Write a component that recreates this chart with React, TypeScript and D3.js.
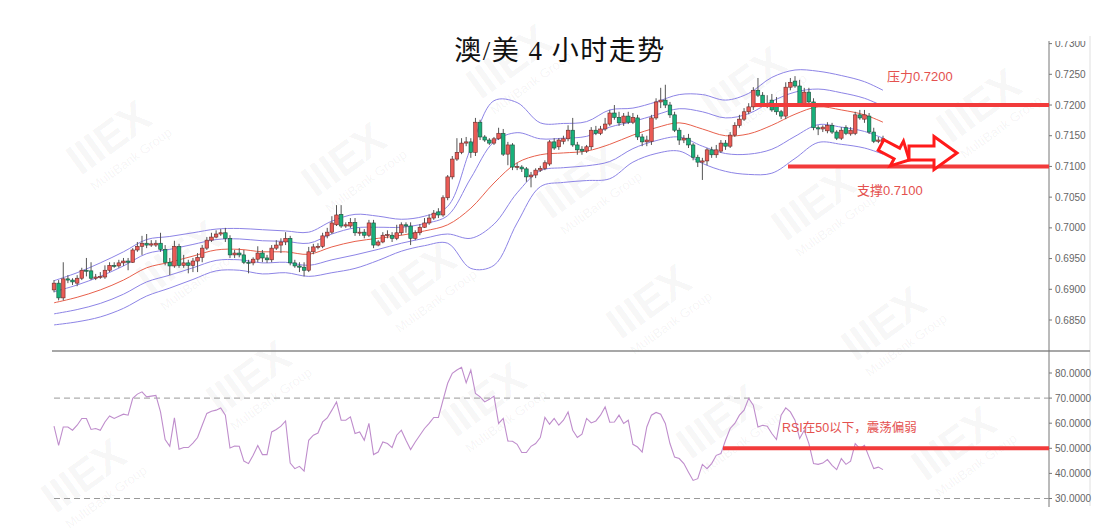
import React from 'react';
import * as d3 from 'd3';

// [open, high, low, close], 4h AUD/USD
const candles: [number, number, number, number][] = [
  [0.6899, 0.6915, 0.6895, 0.6910], [0.6910, 0.6915, 0.6882, 0.6886], [0.6886, 0.6944, 0.6882, 0.6917],
  [0.6917, 0.6923, 0.6910, 0.6915], [0.6915, 0.6918, 0.6907, 0.6912], [0.6910, 0.6923, 0.6905, 0.6918],
  [0.6918, 0.6935, 0.6915, 0.6931], [0.6931, 0.6951, 0.6921, 0.6930], [0.6930, 0.6944, 0.6915, 0.6918],
  [0.6918, 0.6925, 0.6915, 0.6920], [0.6920, 0.6928, 0.6917, 0.6921], [0.6920, 0.6939, 0.6917, 0.6931],
  [0.6931, 0.6944, 0.6928, 0.6939], [0.6939, 0.6944, 0.6935, 0.6938], [0.6938, 0.6948, 0.6935, 0.6943],
  [0.6943, 0.6951, 0.6938, 0.6946], [0.6946, 0.6951, 0.6931, 0.6944], [0.6944, 0.6967, 0.6943, 0.6964],
  [0.6964, 0.6977, 0.6961, 0.6970], [0.6970, 0.6987, 0.6956, 0.6975], [0.6975, 0.6990, 0.6967, 0.6972],
  [0.6972, 0.6980, 0.6969, 0.6974], [0.6972, 0.6980, 0.6969, 0.6975], [0.6975, 0.6992, 0.6961, 0.6965],
  [0.6965, 0.6972, 0.6939, 0.6944], [0.6944, 0.6951, 0.6923, 0.6938], [0.6938, 0.6979, 0.6935, 0.6970],
  [0.6970, 0.6974, 0.6935, 0.6939], [0.6939, 0.6956, 0.6935, 0.6943], [0.6943, 0.6948, 0.6926, 0.6939],
  [0.6939, 0.6951, 0.6928, 0.6946], [0.6946, 0.6959, 0.6928, 0.6952], [0.6952, 0.6972, 0.6944, 0.6967],
  [0.6967, 0.6985, 0.6964, 0.6980], [0.6980, 0.6992, 0.6977, 0.6985], [0.6985, 0.6996, 0.6983, 0.6990],
  [0.6990, 0.6998, 0.6987, 0.6992], [0.6992, 0.7000, 0.6977, 0.6983], [0.6983, 0.6988, 0.6951, 0.6956],
  [0.6956, 0.6964, 0.6951, 0.6959], [0.6959, 0.6967, 0.6952, 0.6956], [0.6956, 0.6964, 0.6941, 0.6944],
  [0.6944, 0.6948, 0.6926, 0.6943], [0.6943, 0.6952, 0.6939, 0.6949], [0.6949, 0.6970, 0.6944, 0.6959],
  [0.6959, 0.6964, 0.6944, 0.6951], [0.6951, 0.6956, 0.6943, 0.6948], [0.6948, 0.6972, 0.6944, 0.6967],
  [0.6967, 0.6980, 0.6964, 0.6972], [0.6972, 0.6983, 0.6959, 0.6977], [0.6977, 0.6993, 0.6972, 0.6983],
  [0.6983, 0.6987, 0.6939, 0.6943], [0.6943, 0.6948, 0.6935, 0.6938], [0.6938, 0.6944, 0.6928, 0.6936],
  [0.6936, 0.6944, 0.6921, 0.6931], [0.6931, 0.6969, 0.6928, 0.6961], [0.6961, 0.6974, 0.6957, 0.6969],
  [0.6969, 0.6975, 0.6965, 0.6970], [0.6970, 0.6992, 0.6967, 0.6987], [0.6987, 0.7000, 0.6983, 0.6993],
  [0.6993, 0.7019, 0.6990, 0.7008], [0.7005, 0.7037, 0.7003, 0.7021], [0.7022, 0.7037, 0.7000, 0.7003],
  [0.7003, 0.7009, 0.7000, 0.7005], [0.7003, 0.7016, 0.7000, 0.7009], [0.7009, 0.7016, 0.6987, 0.6992],
  [0.6992, 0.7000, 0.6987, 0.6993], [0.6993, 0.6998, 0.6983, 0.6988], [0.6988, 0.7013, 0.6985, 0.7008],
  [0.7008, 0.7013, 0.6967, 0.6972], [0.6972, 0.6980, 0.6970, 0.6977], [0.6977, 0.6993, 0.6975, 0.6988],
  [0.6988, 0.6996, 0.6983, 0.6989], [0.6988, 0.6993, 0.6977, 0.6983], [0.6983, 0.7005, 0.6980, 0.6992],
  [0.6992, 0.7009, 0.6988, 0.7005], [0.7005, 0.7009, 0.6992, 0.7003], [0.7003, 0.7009, 0.6972, 0.6983],
  [0.6983, 0.6996, 0.6980, 0.6992], [0.6992, 0.7006, 0.6988, 0.7001], [0.7001, 0.7016, 0.7000, 0.7008],
  [0.7008, 0.7022, 0.7005, 0.7016], [0.7016, 0.7029, 0.7013, 0.7024], [0.7026, 0.7032, 0.7016, 0.7021],
  [0.7021, 0.7053, 0.7018, 0.7049], [0.7049, 0.7086, 0.7045, 0.7083], [0.7083, 0.7117, 0.7079, 0.7112],
  [0.7112, 0.7146, 0.7109, 0.7123], [0.7123, 0.7146, 0.7120, 0.7138], [0.7138, 0.7148, 0.7133, 0.7140],
  [0.7140, 0.7146, 0.7114, 0.7123], [0.7123, 0.7179, 0.7117, 0.7172], [0.7172, 0.7176, 0.7143, 0.7148],
  [0.7148, 0.7151, 0.7140, 0.7143], [0.7143, 0.7146, 0.7135, 0.7138], [0.7138, 0.7148, 0.7135, 0.7145],
  [0.7145, 0.7163, 0.7143, 0.7154], [0.7154, 0.7161, 0.7117, 0.7120], [0.7120, 0.7140, 0.7102, 0.7135],
  [0.7135, 0.7138, 0.7094, 0.7099], [0.7099, 0.7106, 0.7094, 0.7100], [0.7099, 0.7102, 0.7091, 0.7096],
  [0.7096, 0.7099, 0.7075, 0.7083], [0.7083, 0.7091, 0.7066, 0.7086], [0.7086, 0.7097, 0.7081, 0.7094],
  [0.7094, 0.7101, 0.7091, 0.7097], [0.7097, 0.7110, 0.7094, 0.7106], [0.7104, 0.7143, 0.7101, 0.7140],
  [0.7140, 0.7146, 0.7127, 0.7130], [0.7132, 0.7146, 0.7127, 0.7143], [0.7141, 0.7150, 0.7136, 0.7145],
  [0.7145, 0.7167, 0.7141, 0.7159], [0.7159, 0.7179, 0.7132, 0.7135], [0.7135, 0.7140, 0.7119, 0.7127],
  [0.7128, 0.7133, 0.7119, 0.7125], [0.7125, 0.7135, 0.7122, 0.7132], [0.7132, 0.7164, 0.7127, 0.7159],
  [0.7159, 0.7166, 0.7151, 0.7154], [0.7154, 0.7166, 0.7151, 0.7161], [0.7161, 0.7179, 0.7158, 0.7169],
  [0.7169, 0.7192, 0.7166, 0.7187], [0.7187, 0.7200, 0.7176, 0.7180], [0.7180, 0.7189, 0.7166, 0.7171],
  [0.7171, 0.7187, 0.7166, 0.7182], [0.7182, 0.7189, 0.7169, 0.7172], [0.7172, 0.7187, 0.7169, 0.7180],
  [0.7179, 0.7184, 0.7143, 0.7148], [0.7148, 0.7153, 0.7133, 0.7140], [0.7140, 0.7150, 0.7133, 0.7143],
  [0.7141, 0.7184, 0.7135, 0.7179], [0.7179, 0.7211, 0.7176, 0.7205], [0.7205, 0.7228, 0.7195, 0.7208],
  [0.7208, 0.7233, 0.7195, 0.7200], [0.7200, 0.7205, 0.7179, 0.7184], [0.7184, 0.7189, 0.7156, 0.7159],
  [0.7159, 0.7163, 0.7135, 0.7143], [0.7143, 0.7151, 0.7138, 0.7146], [0.7146, 0.7153, 0.7130, 0.7135],
  [0.7135, 0.7138, 0.7110, 0.7115], [0.7115, 0.7119, 0.7099, 0.7107], [0.7107, 0.7114, 0.7078, 0.7109],
  [0.7109, 0.7130, 0.7102, 0.7127], [0.7127, 0.7132, 0.7114, 0.7119], [0.7119, 0.7135, 0.7114, 0.7127],
  [0.7125, 0.7143, 0.7122, 0.7138], [0.7138, 0.7143, 0.7127, 0.7133], [0.7133, 0.7156, 0.7130, 0.7151],
  [0.7151, 0.7172, 0.7148, 0.7167], [0.7167, 0.7184, 0.7163, 0.7177], [0.7177, 0.7195, 0.7174, 0.7189],
  [0.7189, 0.7203, 0.7185, 0.7197], [0.7197, 0.7229, 0.7192, 0.7224], [0.7224, 0.7244, 0.7213, 0.7216],
  [0.7216, 0.7221, 0.7198, 0.7202], [0.7202, 0.7216, 0.7195, 0.7200], [0.7208, 0.7218, 0.7189, 0.7192],
  [0.7202, 0.7213, 0.7184, 0.7189], [0.7189, 0.7192, 0.7177, 0.7182], [0.7182, 0.7237, 0.7177, 0.7229],
  [0.7229, 0.7244, 0.7224, 0.7237], [0.7239, 0.7247, 0.7228, 0.7231], [0.7231, 0.7241, 0.7198, 0.7202],
  [0.7202, 0.7228, 0.7198, 0.7221], [0.7221, 0.7228, 0.7202, 0.7205], [0.7205, 0.7211, 0.7159, 0.7163],
  [0.7163, 0.7167, 0.7151, 0.7161], [0.7161, 0.7167, 0.7156, 0.7164], [0.7158, 0.7172, 0.7154, 0.7167],
  [0.7167, 0.7171, 0.7153, 0.7156], [0.7156, 0.7159, 0.7143, 0.7146], [0.7146, 0.7164, 0.7143, 0.7159],
  [0.7163, 0.7167, 0.7151, 0.7154], [0.7153, 0.7164, 0.7150, 0.7159], [0.7154, 0.7189, 0.7151, 0.7184],
  [0.7184, 0.7192, 0.7176, 0.7179], [0.7177, 0.7192, 0.7171, 0.7184], [0.7182, 0.7187, 0.7153, 0.7156],
  [0.7156, 0.7163, 0.7138, 0.7141], [0.7141, 0.7148, 0.7138, 0.7143], [0.7140, 0.7150, 0.7136, 0.7145],
];

const rsi: number[] = [
  58.8, 51.2, 58.5, 58.5, 57.2, 59.2, 61.9, 61.9, 57.5, 57.9,
  57.2, 60.5, 62.9, 61.9, 62.8, 63.6, 63.2, 69.9, 71.6, 72.5,
  70.5, 70.8, 71.1, 64.5, 53.5, 50.8, 62.1, 49.6, 50.3, 50.3,
  52.1, 54.3, 59.2, 63.9, 64.8, 65.2, 66.1, 63.2, 50.1, 50.9,
  50.8, 44.9, 43.9, 47.2, 51.1, 47.5, 47.5, 56.5, 57.5, 58.8,
  60.9, 44.1, 41.9, 42.8, 40.9, 53.2, 55.2, 56.1, 60.5, 62.1,
  65.2, 68.5, 61.2, 61.2, 62.5, 55.9, 56.5, 53.2, 59.9, 47.5,
  48.5, 52.5, 51.9, 50.3, 55.2,
  57.2, 53.2, 49.5, 52.5, 55.2, 57.9, 59.9, 62.3, 62.3, 69.2,
  75.9, 79.9, 81.2, 82.3, 76.1, 81.2, 71.9, 70.5, 68.5, 69.5,
  70.8, 59.9, 61.9, 52.9, 52.8, 51.6, 48.3, 48.3, 50.8, 51.9,
  54.3, 62.3, 59.6, 61.9, 59.2, 61.2, 64.5, 57.2, 54.3, 55.6,
  61.9, 60.1, 60.9, 63.2, 66.5, 60.4, 60.5, 63.2, 59.9, 61.2,
  51.6, 50.5, 48.5, 58.5, 63.2, 64.3, 63.6, 59.9, 51.9, 46.5,
  45.9, 43.9, 40.5, 37.2, 37.9, 43.6, 41.9, 43.9, 47.2, 47.9,
  53.2, 57.9,
  59.9, 63.2, 65.2, 69.9, 67.2, 58.5, 59.2, 58.8, 55.9, 53.5,
  63.2, 66.1, 64.5, 61.2, 53.9, 57.2, 51.9, 43.9, 43.6, 44.1,
  45.5, 43.2, 41.5, 45.9, 43.6, 44.9, 51.9, 49.9, 51.2, 46.5,
  41.9, 42.5, 41.5,
];

// Bollinger band (middle + deviation) read at every 5th candle
const bandIdx = [0, 5, 10, 15, 20, 25, 30, 35, 40, 45, 50, 55, 60, 65, 70, 75, 80, 85, 90, 95,
  100, 105, 110, 115, 120, 125, 130, 135, 140, 145, 150, 155, 160, 165, 170, 175, 179];
const bandMid = [0.6878, 0.6887, 0.6899, 0.6915, 0.6935, 0.6944, 0.6954, 0.6964, 0.6965, 0.6961,
  0.6961, 0.6957, 0.6969, 0.6978, 0.6983, 0.6988, 0.6995, 0.7005, 0.7032, 0.7073,
  0.7106, 0.7119, 0.7122, 0.7125, 0.7136, 0.7151, 0.7163, 0.7171, 0.7161, 0.7150,
  0.7153, 0.7167, 0.7185, 0.7197, 0.7192, 0.7184, 0.7172];
const bandDev = [0.0018, 0.0020, 0.0022, 0.0023, 0.0023, 0.0021, 0.0019, 0.0017, 0.0017, 0.0018,
  0.0017, 0.0018, 0.0021, 0.0022, 0.0018, 0.0013, 0.0012, 0.0015, 0.0049, 0.0067,
  0.0049, 0.0026, 0.0024, 0.0024, 0.0028, 0.0022, 0.0021, 0.0023, 0.0028, 0.0029,
  0.0033, 0.0039, 0.0036, 0.0029, 0.0028, 0.0027, 0.0026];
const bandMult = [2, 1, 0, -1, -2];

const priceTicks = [0.685, 0.69, 0.695, 0.70, 0.705, 0.71, 0.715, 0.72, 0.725, 0.73];
const rsiTicks = [30, 40, 50, 60, 70, 80];
const rsiDashed = [70, 30];
const resistance = 0.72;
const support = 0.71;
const rsiLevel = 50;

const W = 1111;
const H = 531;
const AXIS_X = 1049;
const RED = '#f23b3b';
const NOTE = '#e4514f';

const x = d3.scaleLinear().domain([0, candles.length - 1]).range([54, 883]);
const y = d3.scaleLinear().domain([0.685, 0.73]).range([320, 43.6]);
const yr = d3.scaleLinear().domain([30, 80]).range([498.5, 373]);

function arrowPts(tx: number, ty: number, ang: number, len: number, bodyH: number, headH: number, headLen: number) {
  const bl = len - headLen;
  const pts = [[0, -bodyH / 2], [bl, -bodyH / 2], [bl, -headH / 2], [len, 0], [bl, headH / 2], [bl, bodyH / 2], [0, bodyH / 2]];
  const r = (ang * Math.PI) / 180;
  const c = Math.cos(r), s = Math.sin(r);
  return pts.map(([px, py]) => `${tx + px * c - py * s},${ty + px * s + py * c}`).join(' ');
}

// watermark lattice (only the ones that sit fully inside the picture)
const marks: [number, number][] = [];
for (let m = -3; m <= 6; m++) {
  for (let n = -3; n <= 6; n++) {
    const px = 117 + 235 * m + 70 * n;
    const py = 150 + 22 * m + 120 * n;
    if (px > 65 && px < 1045 && py > 70 && py < 495) marks.push([px, py]);
  }
}

export default function App() {
  const bandLine = (k: number) =>
    d3.line<number>()
      .x((_, i) => x(bandIdx[i]))
      .y((m, i) => y(m + k * bandDev[i]))
      .curve(d3.curveCatmullRom.alpha(0.5))(bandMid) || '';

  const rsiLine = d3.line<number>()
    .x((_, i) => x(i))
    .y(d => yr(d))(rsi) || '';

  const bw = 3.6;

  return (
    <svg width={W} height={H} style={{ position: 'absolute', left: 0, top: 0, background: '#fff' }}
      fontFamily="'Liberation Sans', Arial, sans-serif">
      <defs>
        <clipPath id="topclip"><rect x={0} y={41} width={W} height={H} /></clipPath>
      </defs>
      <rect width={W} height={H} fill="#fff" />

      {/* watermarks */}
      <g fill="#000" pointerEvents="none">
        {marks.map(([px, py], i) => (
          <g key={i} transform={`translate(${px},${py}) rotate(-36)`}>
            <text x={0} y={0} textAnchor="middle" fontSize={44} fontWeight={900} fillOpacity={0.04}
              letterSpacing={-1}>IIIEX</text>
            <text x={6} y={20} textAnchor="middle" fontSize={13} fillOpacity={0.05}>MultiBank Group</text>
          </g>
        ))}
      </g>

      {/* title */}
      <text x={560} y={60} textAnchor="middle" fontSize={27} fill="#111" letterSpacing={1.5}
        fontFamily="'Liberation Serif', 'Noto Sans CJK SC', serif">澳/美 4 小时走势</text>

      {/* frame lines */}
      <line x1={1090} x2={1090} y1={36} y2={506} stroke="#e4e4e4" strokeWidth={1.2} />
      <line x1={52} x2={1090} y1={351} y2={351} stroke="#8a8a8a" strokeWidth={1.3} />
      <line x1={AXIS_X} x2={AXIS_X} y1={41} y2={507} stroke="#777" strokeWidth={1} />

      {/* price axis */}
      <g clipPath="url(#topclip)">
        {priceTicks.map(t => (
          <g key={t}>
            <line x1={AXIS_X} x2={AXIS_X + 3} y1={y(t)} y2={y(t)} stroke="#777" />
            <text x={AXIS_X + 6} y={y(t)} dy="0.35em" fontSize={10} fill="#666">{t.toFixed(4)}</text>
          </g>
        ))}
      </g>

      {/* bollinger bands */}
      {bandMult.map(k => (
        <path key={k} d={bandLine(k)} fill="none" stroke={k === 0 ? '#e8604c' : '#8d84e6'} strokeWidth={1} />
      ))}

      {/* candles */}
      {candles.map(([o, h, l, c], i) => {
        const up = c >= o;
        const top = y(Math.max(o, c));
        const bh = Math.max(1, y(Math.min(o, c)) - top);
        return (
          <g key={i}>
            <line x1={x(i)} x2={x(i)} y1={y(h)} y2={y(l)} stroke="#555" strokeWidth={1} />
            <rect x={x(i) - bw / 2} y={top} width={bw} height={bh}
              fill={up ? '#ea5b56' : '#17b07a'} stroke={up ? '#6b2a28' : '#1d4d3a'} strokeWidth={0.6} />
          </g>
        );
      })}

      {/* support / resistance */}
      <line x1={755} x2={AXIS_X} y1={y(resistance)} y2={y(resistance)} stroke={RED} strokeWidth={4} />
      <line x1={788} x2={AXIS_X} y1={y(support)} y2={y(support)} stroke={RED} strokeWidth={4} />
      <text x={887} y={y(0.7246)} dy="0.35em" fontSize={13} fill={NOTE}
        fontFamily="'Liberation Sans', 'Noto Sans CJK SC', sans-serif">压力0.7200</text>
      <text x={857} y={y(0.70605)} dy="0.35em" fontSize={13} fill={NOTE}
        fontFamily="'Liberation Sans', 'Noto Sans CJK SC', sans-serif">支撑0.7100</text>

      {/* arrows */}
      <polygon points={arrowPts(881, 145, 28, 32, 12, 28, 14)} fill="#fff" stroke="#ff1a1a" strokeWidth={3} strokeLinejoin="miter" />
      <polygon points={arrowPts(909, 153, 0, 48, 14, 33, 23)} fill="#fff" stroke="#ff1a1a" strokeWidth={3} strokeLinejoin="miter" />

      {/* RSI panel */}
      {rsiDashed.map(v => (
        <line key={v} x1={54} x2={AXIS_X} y1={yr(v)} y2={yr(v)} stroke="#999" strokeDasharray="6,4" strokeWidth={1} />
      ))}
      {rsiTicks.map(t => (
        <g key={t}>
          <line x1={AXIS_X} x2={AXIS_X + 3} y1={yr(t)} y2={yr(t)} stroke="#777" />
          <text x={AXIS_X + 6} y={yr(t)} dy="0.35em" fontSize={10} fill="#666">{t.toFixed(4)}</text>
        </g>
      ))}
      <path d={rsiLine} fill="none" stroke="#bf8dcc" strokeWidth={1.1} />
      <line x1={723} x2={AXIS_X} y1={yr(rsiLevel)} y2={yr(rsiLevel)} stroke={RED} strokeWidth={4} />
      <text x={782} y={yr(58.2)} dy="0.35em" fontSize={12.5} fill={NOTE}
        fontFamily="'Liberation Sans', 'Noto Sans CJK SC', sans-serif">RSI在50以下，震荡偏弱</text>
    </svg>
  );
}
